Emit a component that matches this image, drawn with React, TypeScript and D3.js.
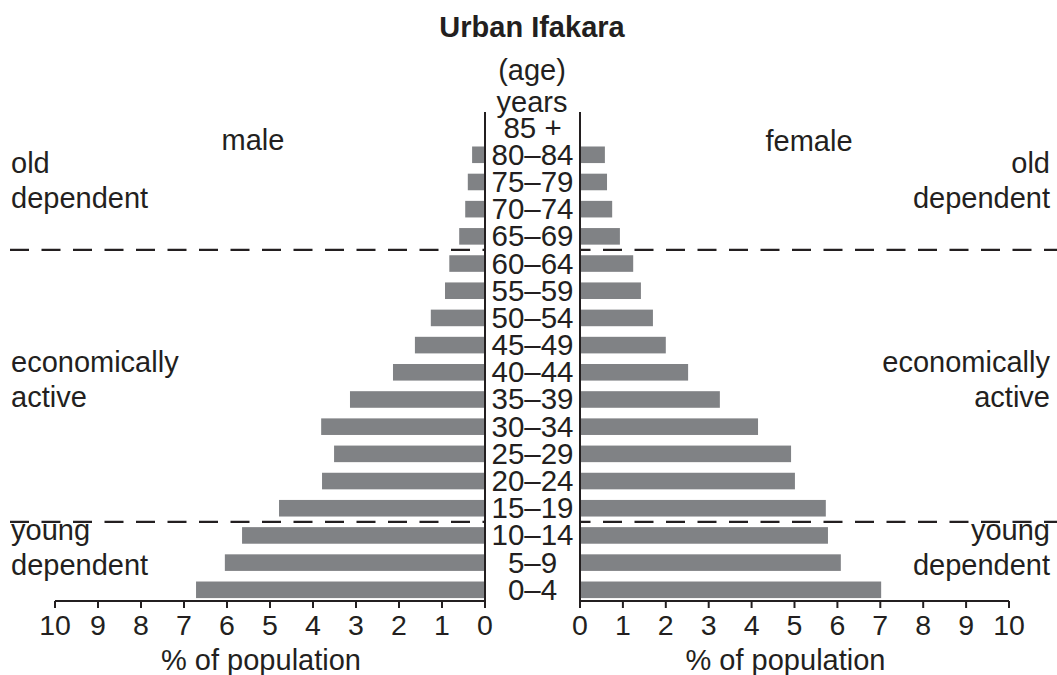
import React, { useEffect } from 'react';
import * as d3 from 'd3';

// age groups, bottom to top
const ageGroups = ['0–4', '5–9', '10–14', '15–19', '20–24', '25–29', '30–34', '35–39', '40–44',
  '45–49', '50–54', '55–59', '60–64', '65–69', '70–74', '75–79', '80–84', '85 +'];
const maleValues = [6.72, 6.05, 5.65, 4.79, 3.79, 3.51, 3.81, 3.14, 2.14, 1.63, 1.26, 0.93, 0.83, 0.6, 0.46, 0.4, 0.3, 0];
const femaleValues = [7.02, 6.08, 5.78, 5.73, 5.01, 4.92, 4.15, 3.26, 2.52, 2.0, 1.7, 1.42, 1.24, 0.93, 0.75, 0.63, 0.58, 0];
const tickValues = [0, 1, 2, 3, 4, 5, 6, 7, 8, 9, 10];
// dashed lines sit between these groups
const splitAbove = ['65–69', '15–19'];

const W = 1057;
const H = 675;
const ink = '#231f20';
const barColor = '#808285';
const font = '"Liberation Sans", Arial, Helvetica, sans-serif';

const xLeft = d3.scaleLinear().domain([0, 10]).range([485, 55]);
const xRight = d3.scaleLinear().domain([0, 10]).range([580, 1009]);
const y = d3.scaleBand<string>()
  .domain([...ageGroups].reverse())
  .range([114, 603.4])
  .paddingInner(0.39)
  .paddingOuter(0.195);
const axisY = 601;

const App = () => {
  useEffect(() => {
    document.body.style.margin = '0';
  }, []);

  const bw = y.bandwidth();
  const step = y.step();

  return (
    <svg width={W} height={H} style={{ display: 'block', background: '#fff' }} fontFamily={font} fill={ink}>
      <text x={532} y={37} fontSize={29} fontWeight="bold" textAnchor="middle">Urban Ifakara</text>
      <text x={532} y={80} fontSize={29} textAnchor="middle">(age)</text>
      <text x={532} y={112} fontSize={29} textAnchor="middle">years</text>

      {/* bars */}
      {ageGroups.map((g, i) => (
        <g key={g}>
          <rect x={xLeft(maleValues[i])} y={y(g)} width={xLeft(0) - xLeft(maleValues[i])} height={bw} fill={barColor} />
          <rect x={xRight(0)} y={y(g)} width={xRight(femaleValues[i]) - xRight(0)} height={bw} fill={barColor} />
          <text x={532.5} y={(y(g) as number) + bw / 2 + 10} fontSize={29.5} textAnchor="middle">{g}</text>
        </g>
      ))}

      {/* dashed group separators */}
      {splitAbove.map((g) => {
        const yy = (y(g) as number) + bw + (step - bw) / 2;
        return (
          <g key={g} stroke={ink} strokeWidth={2.3} strokeDasharray="19 12.5">
            <line x1={10} x2={xLeft(0)} y1={yy} y2={yy} />
            <line x1={xRight(0)} x2={W} y1={yy} y2={yy} strokeDashoffset={8.5} />
          </g>
        );
      })}

      {/* central vertical lines */}
      <line x1={xLeft(0)} x2={xLeft(0)} y1={112} y2={axisY + 6} stroke={ink} strokeWidth={2} />
      <line x1={xRight(0)} x2={xRight(0)} y1={112} y2={axisY + 6} stroke={ink} strokeWidth={2} />

      {/* axes */}
      {[xLeft, xRight].map((sc, k) => (
        <g key={k}>
          <line x1={sc(0)} x2={sc(10)} y1={axisY} y2={axisY} stroke={ink} strokeWidth={2} />
          {tickValues.map((t) => (
            <g key={t}>
              <line x1={sc(t)} x2={sc(t)} y1={axisY} y2={axisY + 7} stroke={ink} strokeWidth={2} />
              <text x={sc(t)} y={635} fontSize={28.5} textAnchor="middle">{t}</text>
            </g>
          ))}
          <text x={(sc(0) + sc(10)) / 2 - 9} y={670} fontSize={29} textAnchor="middle">% of population</text>
        </g>
      ))}

      {/* side labels */}
      <text x={253} y={150} fontSize={29} textAnchor="middle">male</text>
      <text x={809} y={151} fontSize={29} textAnchor="middle">female</text>

      <g fontSize={29}>
        <text x={11} y={173}>old</text>
        <text x={11} y={208}>dependent</text>
        <text x={11} y={372}>economically</text>
        <text x={11} y={407}>active</text>
        <text x={11} y={540}>young</text>
        <text x={11} y={575}>dependent</text>
      </g>
      <g fontSize={29} textAnchor="end">
        <text x={1050} y={173}>old</text>
        <text x={1050} y={208}>dependent</text>
        <text x={1050} y={372}>economically</text>
        <text x={1050} y={407}>active</text>
        <text x={1050} y={540}>young</text>
        <text x={1050} y={575}>dependent</text>
      </g>
    </svg>
  );
};

export default App;
